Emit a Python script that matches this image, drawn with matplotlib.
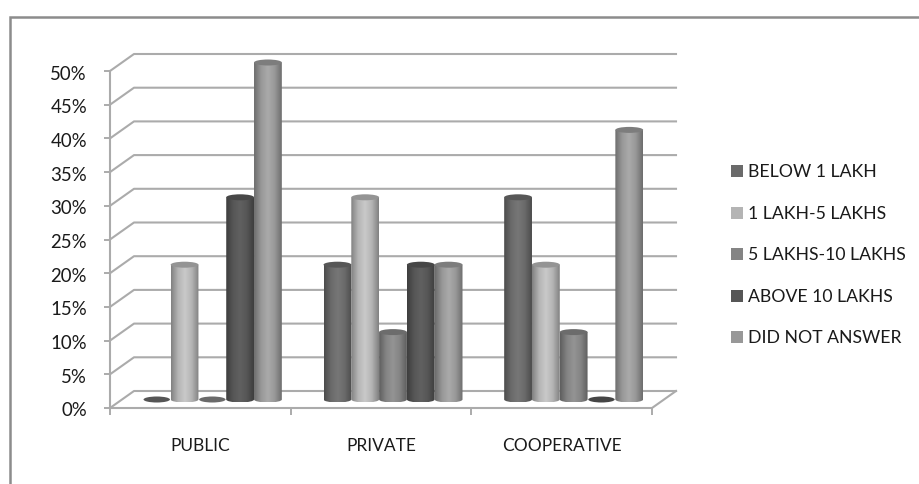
import matplotlib

matplotlib.use("Agg")

import matplotlib.pyplot as plt
import numpy as np
from matplotlib.colors import LinearSegmentedColormap
from matplotlib.patches import Ellipse, Rectangle, PathPatch
from matplotlib.path import Path
from matplotlib.transforms import ScaledTranslation

categories = ["PUBLIC", "PRIVATE", "COOPERATIVE"]
series_names = ["BELOW 1 LAKH", "1 LAKH-5 LAKHS", "5 LAKHS-10 LAKHS", "ABOVE 10 LAKHS", "DID NOT ANSWER"]
below_1 = [0, 20, 30]
lakh_1_5 = [20, 30, 20]
lakh_5_10 = [0, 10, 10]
above_10 = [30, 20, 0]
no_answer = [50, 20, 40]
y_ticks = [0, 5, 10, 15, 20, 25, 30, 35, 40, 45, 50]

series = [below_1, lakh_1_5, lakh_5_10, above_10, no_answer]
colors = ["#6a6a6a", "#b4b4b4", "#848484", "#565656", "#989898"]

W, H = 920, 484
GRID = "#ababab"
TEXT = "#1a1a1a"

plt.rcParams["font.family"] = ["Lato", "DejaVu Sans"]

fig = plt.figure(figsize=(W / 100, H / 100), dpi=100, facecolor="white")

# outer chart frame, only the top and left edges are visible
bg = fig.add_axes([0, 0, 1, 1])
bg.set_xlim(0, W)
bg.set_ylim(H, 0)
bg.axis("off")
bg.plot([10, 10, W], [H, 17, 17], color="#8c8c8c", lw=1.8, solid_joinstyle="miter")

# front plane of the plot: x in category units, y in percent
left, right, bottom, top = 110, 652, 408, 71
ax = fig.add_axes([left / W, 1 - bottom / H, (right - left) / W, (bottom - top) / H])
ax.set_xlim(0, len(categories))
ax.set_ylim(0, 50)
ax.patch.set_alpha(0)
for s in ax.spines.values():
    s.set_visible(False)

px_x = len(categories) / (right - left)
px_y = 50 / (bottom - top)
depth_x = 24 * px_x
depth_y = 17 * px_y

# gridlines run across the back wall and fold down the side wall
for v in y_ticks:
    ax.plot([0, depth_x, 3 + depth_x], [v, v + depth_y, v + depth_y],
            color=GRID, lw=1.5, clip_on=False, zorder=1, solid_joinstyle="round")
ax.plot([0, 3, 3 + depth_x], [0, 0, depth_y], color=GRID, lw=1.5, clip_on=False, zorder=1)
ax.plot([0, 0], [0, 50], color=GRID, lw=1.5, clip_on=False, zorder=1)

ax.set_yticks(y_ticks)
ax.set_yticklabels([f"{v}%" for v in y_ticks], fontsize=13.4, color=TEXT, va="center")
ax.set_xticks(range(len(categories) + 1))
ax.set_xticklabels([])
ax.tick_params(axis="y", length=4.5, width=1.4, color=GRID, pad=12)
ax.tick_params(axis="x", length=5, width=1.4, color=GRID)

# percent labels sit slightly below their ticks
label_shift = ScaledTranslation(0, -3 / 100, fig.dpi_scale_trans)
for lab in ax.get_yticklabels():
    lab.set_transform(lab.get_transform() + label_shift)

for i, name in enumerate(categories):
    ax.text(i + 0.5, -5.6, name, ha="center", va="center", fontsize=12.5, color=TEXT)


def shade(color, factor):
    rgb = np.array(matplotlib.colors.to_rgb(color)) * factor
    return tuple(np.clip(rgb, 0, 1))


def draw_column(x0, width, value, color):
    cmap = LinearSegmentedColormap.from_list(
        "col", [shade(color, 0.72), shade(color, 1.0), shade(color, 1.12), shade(color, 1.0), shade(color, 0.72)])
    base = depth_y / 2
    ry = 3.0 * px_y
    if value == 0:
        ax.add_patch(Ellipse((x0 + width / 2, base), width * 0.95, 2 * ry,
                             facecolor=shade(color, 0.8), edgecolor="none", zorder=4, clip_on=False))
        return
    top_y = base + value
    k = 0.5523
    xl, xr, xc = x0, x0 + width, x0 + width / 2
    verts = [(xl, top_y), (xl, base),
             (xl, base - k * ry), (xc - k * width / 2, base - ry), (xc, base - ry),
             (xc + k * width / 2, base - ry), (xr, base - k * ry), (xr, base),
             (xr, top_y), (xl, top_y)]
    codes = [Path.MOVETO, Path.LINETO, Path.CURVE4, Path.CURVE4, Path.CURVE4,
             Path.CURVE4, Path.CURVE4, Path.CURVE4, Path.LINETO, Path.CLOSEPOLY]
    body = PathPatch(Path(verts, codes), facecolor="none", edgecolor="none", transform=ax.transData)
    ax.add_patch(body)
    im = ax.imshow(np.linspace(0, 1, 64)[None, :], extent=[xl, xr, base - ry, top_y], cmap=cmap,
                   aspect="auto", zorder=3, interpolation="bilinear")
    im.set_clip_path(body)
    # the tallest column rises above the axes box
    im.set_clip_box(fig.bbox)
    ax.add_patch(Ellipse((xc, top_y), width, 2 * ry, facecolor=shade(color, 0.82),
                         edgecolor="none", zorder=3.5, clip_on=False))


bar_w = 1 / 6.5
for c in range(len(categories)):
    for s, values in enumerate(series):
        x0 = c + 0.75 * bar_w + s * bar_w + depth_x / 2
        draw_column(x0, bar_w, values[c], colors[s])

ax.set_xlim(0, len(categories))
ax.set_ylim(0, 50)

# legend squares and labels
legend_y = [171, 213, 254, 296, 337]
for name, color, y in zip(series_names, colors, legend_y):
    bg.add_patch(Rectangle((731, y - 6), 12, 12, facecolor=color, edgecolor="none"))
    bg.text(748, y + 1, name, ha="left", va="center", fontsize=12.7, color=TEXT)

fig.savefig("out.png", dpi=100)
plt.close(fig)
